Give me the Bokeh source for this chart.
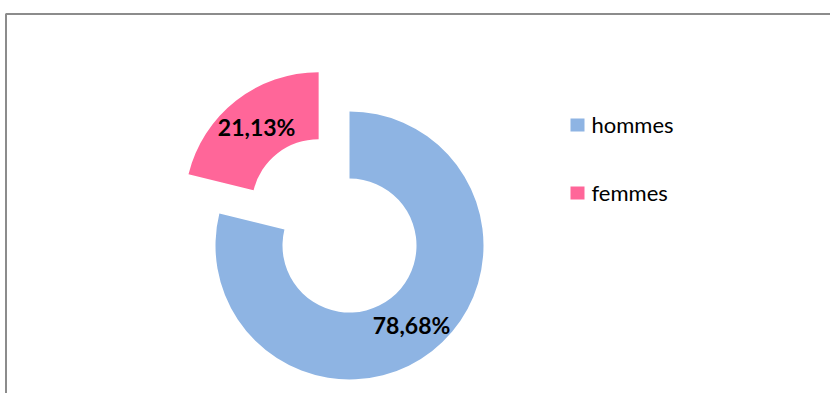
import math
from bokeh.plotting import figure
from bokeh.models import Range1d, ColumnDataSource
from bokeh.core.properties import value
from bokeh.embed import file_html
from bokeh.resources import INLINE

# Data
categories = ["hommes", "femmes"]
percent_values = [78.68, 21.13]
percent_labels = ["78,68%", "21,13%"]
colors = ["#8EB4E3", "#FF6699"]
explode = [0.0, 50.0]

W, H = 830, 393
p = figure(width=W, height=H, output_backend="svg", toolbar_location=None,
           x_range=Range1d(0, W), y_range=Range1d(-H, 0),
           min_border=0, background_fill_color="white", border_fill_color="white")
p.axis.visible = False
p.grid.visible = False
p.outline_line_color = None

# Chart border (frame of the chart area)
p.line(x=[5.5, 5.5, 840], y=[-400, -13.5, -13.5], line_color="#8C8C8C", line_width=2)

cx, cy = 349.0, -245.0
r_out, r_in = 134.0, 67.0
total = sum(percent_values)

start_frac = 0.0
for cat, val, lab, col, ex in zip(categories, percent_values, percent_labels, colors, explode):
    frac = val / total
    a0 = math.pi / 2 - 2 * math.pi * start_frac
    a1 = math.pi / 2 - 2 * math.pi * (start_frac + frac)
    mid = (a0 + a1) / 2
    ox = cx + ex * math.cos(mid)
    oy = cy + ex * math.sin(mid)
    src = ColumnDataSource(dict(x=[ox], y=[oy]))
    p.annular_wedge(x="x", y="y", inner_radius=r_in, outer_radius=r_out,
                    start_angle=a0, end_angle=a1, direction="clock",
                    fill_color=col, line_color=None, source=src)
    rm = (r_in + r_out) / 2
    p.text(x=[ox + rm * math.cos(mid)], y=[oy + rm * math.sin(mid)], text=[lab],
           text_font=value("Lato"), text_font_style="bold", text_font_size="23px",
           text_color="black", text_align="center", text_baseline="middle")
    start_frac += frac

# Legend
leg_x, leg_y0, leg_dy = 577, -124.5, -68
for i, (cat, col) in enumerate(zip(categories, colors)):
    yy = leg_y0 + i * leg_dy
    p.rect(x=[leg_x], y=[yy], width=14, height=13, fill_color=col, line_color=None)
    p.text(x=[591], y=[yy + 1], text=[cat], text_font=value("Lato"), text_font_size="22px",
           text_color="black", text_align="left", text_baseline="middle")

open("out.html", "w").write(file_html(p, INLINE))
